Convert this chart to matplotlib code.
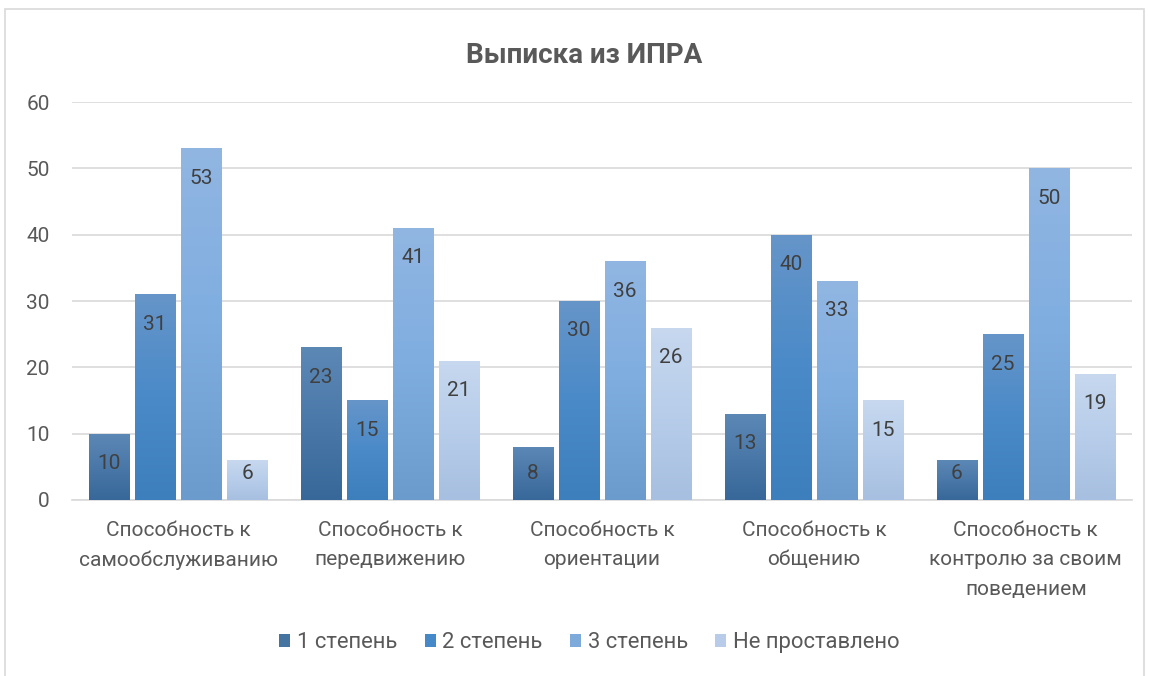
import numpy as np
import matplotlib
matplotlib.use("Agg")
import matplotlib.pyplot as plt
from matplotlib.colors import LinearSegmentedColormap
from matplotlib.patches import Rectangle

categories = ["Способность к\nсамообслуживанию", "Способность к\nпередвижению",
              "Способность к\nориентации", "Способность к\nобщению",
              "Способность к\nконтролю за своим\nповедением"]
series_names = ["1 степень", "2 степень", "3 степень", "Не проставлено"]
deg1 = [10, 23, 8, 13, 6]
deg2 = [31, 15, 30, 40, 25]
deg3 = [53, 41, 36, 33, 50]
none_set = [6, 21, 26, 15, 19]
series = [deg1, deg2, deg3, none_set]

# gradient colours (bottom, middle, top)
grads = [
    ["#376899", "#4a78a8", "#5c88b6"],
    ["#3d7ebd", "#4a8ac8", "#6695c9"],
    ["#6b9bcc", "#7fade0", "#91b6e2"],
    ["#a7bfe0", "#b7cdea", "#c7d8ef"],
]
solid = ["#44749f", "#4589c8", "#7eaadb", "#b8cce9"]

plt.rcParams['font.family'] = ['Roboto', 'DejaVu Sans']
fig = plt.figure(figsize=(11.49, 6.76), dpi=100)
ax = fig.add_axes([0.0627, 0.2604, 0.9223, 0.5886])

x = np.arange(len(categories))
step = 0.217
width = 0.189
offsets = (np.arange(4) - 1.5) * step

for i, vals in enumerate(series):
    bars = ax.bar(x + offsets[i], vals, width, color=solid[i], label=series_names[i], zorder=3)
    cmap = LinearSegmentedColormap.from_list(f"g{i}", grads[i])
    grad = np.linspace(1, 0, 256).reshape(-1, 1)
    for b, v in zip(bars, vals):
        x0 = b.get_x()
        im = ax.imshow(grad, cmap=cmap, aspect='auto', extent=(x0, x0 + b.get_width(), 0, v),
                       zorder=3.5, interpolation='bicubic')
        im.set_clip_path(b)
        off = min(4.5, v - 4.0)
        ax.text(b.get_x() + b.get_width() / 2, v - off, str(v), ha='center', va='center',
                fontsize=15, color='#404040', zorder=5)

ax.set_xlim(-0.5, len(categories) - 0.5)
ax.set_ylim(0, 60)
ax.set_yticks(range(0, 61, 10))
ax.yaxis.grid(True, color='#d9d9d9', linewidth=1.2, zorder=0)
ax.set_axisbelow(True)
for s in ['top', 'right', 'left']:
    ax.spines[s].set_visible(False)
ax.spines['bottom'].set_color('#d9d9d9')
ax.spines['bottom'].set_linewidth(1.2)
ax.tick_params(axis='both', length=0, labelsize=15, colors='#595959')
ax.tick_params(axis='y', pad=16)
ax.tick_params(axis='x', pad=15)
ax.set_xticks(x)
ax.set_xticklabels(categories, linespacing=1.7)

fig.suptitle("Выписка из ИПРА", x=0.508, y=0.938, fontsize=20, fontweight='bold', color='#595959')

leg = fig.legend(loc='center', bbox_to_anchor=(0.513, 0.049), ncol=4, frameon=False,
                 fontsize=15.8, handlelength=0.5, handleheight=0.5, handletextpad=0.3,
                 columnspacing=1.25, labelcolor='#595959')

fig.patches.append(Rectangle((0.004, -0.01), 0.992, 0.996, transform=fig.transFigure,
                             fill=False, edgecolor='#d9d9d9', linewidth=1.2))

fig.savefig("out.png", dpi=100, facecolor='white')
